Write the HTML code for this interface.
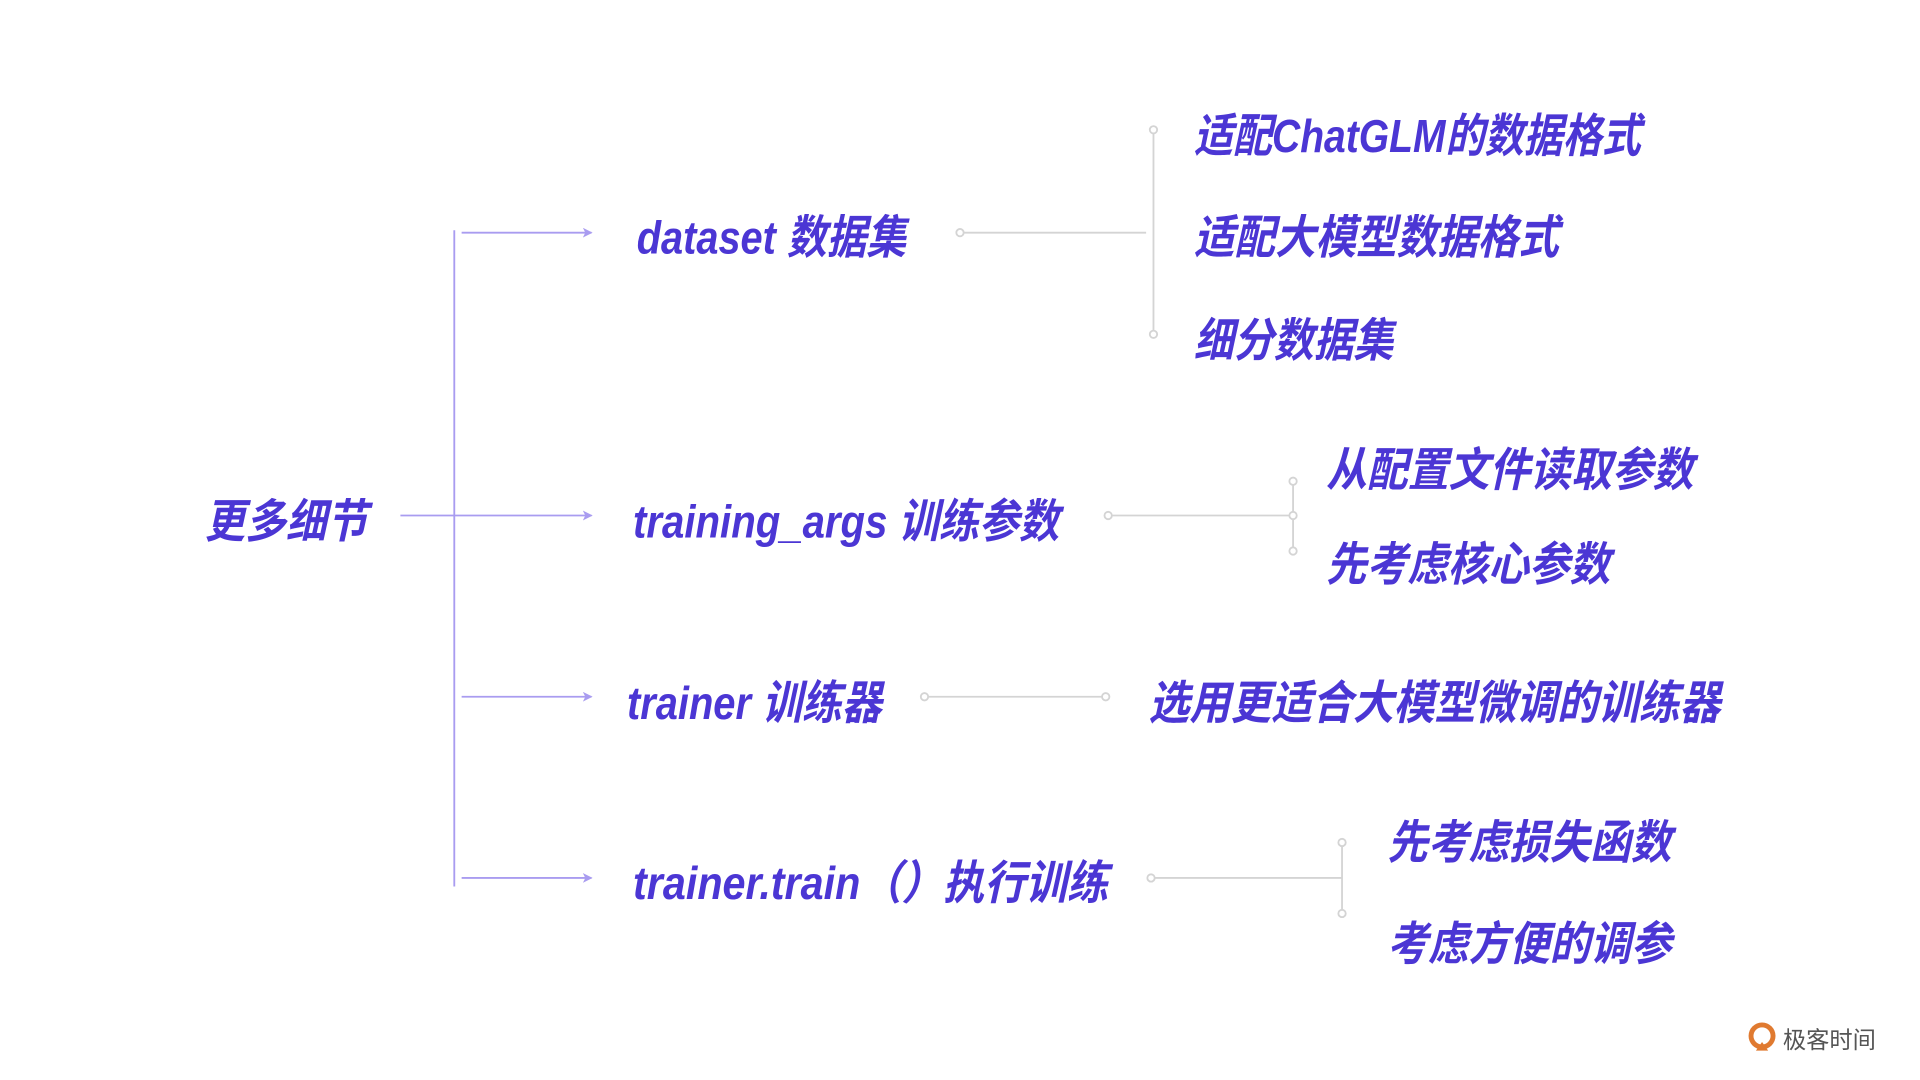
<!DOCTYPE html>
<html><head><meta charset="utf-8"><style>
html,body{margin:0;padding:0;background:#fff;width:1920px;height:1080px;overflow:hidden}
svg{display:block}
text{font-family:"Liberation Sans","Noto Sans CJK SC",sans-serif;font-style:italic;font-weight:bold;fill:#4b36d4;font-size:38px}
.g{stroke:#d4d4d4;stroke-width:1.5;fill:none}
.c{stroke:#d4d4d4;stroke-width:1.5;fill:#fff}
.p{stroke:#a99cf0;stroke-width:1.5;fill:none}
</style></head><body>
<svg width="1920" height="1080" viewBox="0 0 1568 882" xmlns="http://www.w3.org/2000/svg">
<defs><marker id="a" markerWidth="8" markerHeight="8" refX="7" refY="4" orient="auto" markerUnits="userSpaceOnUse"><path d="M0,0 L8,4 L0,8 L2,4 Z" fill="#a99cf0"/></marker></defs>
<!-- purple tree -->
<line class="p" x1="371" y1="188" x2="371" y2="724"/>
<line class="p" x1="327" y1="421" x2="483" y2="421" marker-end="url(#a)"/>
<line class="p" x1="377" y1="190" x2="483" y2="190" marker-end="url(#a)"/>
<line class="p" x1="377" y1="569" x2="483" y2="569" marker-end="url(#a)"/>
<line class="p" x1="377" y1="717" x2="483" y2="717" marker-end="url(#a)"/>
<!-- grey connectors -->
<line class="g" x1="787" y1="190" x2="936" y2="190"/>
<line class="g" x1="942" y1="106" x2="942" y2="273"/>
<circle class="c" cx="784" cy="190" r="3"/><circle class="c" cx="942" cy="106" r="3"/><circle class="c" cx="942" cy="273" r="3"/>
<line class="g" x1="908" y1="421" x2="1056" y2="421"/>
<line class="g" x1="1056" y1="393" x2="1056" y2="450"/>
<circle class="c" cx="905" cy="421" r="3"/><circle class="c" cx="1056" cy="393" r="3"/><circle class="c" cx="1056" cy="421" r="3"/><circle class="c" cx="1056" cy="450" r="3"/>
<line class="g" x1="758" y1="569" x2="900" y2="569"/>
<circle class="c" cx="755" cy="569" r="3"/><circle class="c" cx="903" cy="569" r="3"/>
<line class="g" x1="943" y1="717" x2="1096" y2="717"/>
<line class="g" x1="1096" y1="688" x2="1096" y2="746"/>
<circle class="c" cx="940" cy="717" r="3"/><circle class="c" cx="1096" cy="688" r="3"/><circle class="c" cx="1096" cy="746" r="3"/>
<!-- labels -->
<text x="167" y="439" textLength="133" lengthAdjust="spacingAndGlyphs">更多细节</text>
<text x="520" y="207" textLength="220" lengthAdjust="spacingAndGlyphs">dataset 数据集</text>
<text x="517" y="439" textLength="348" lengthAdjust="spacingAndGlyphs">training_args 训练参数</text>
<text x="512" y="587" textLength="208" lengthAdjust="spacingAndGlyphs">trainer 训练器</text>
<text x="517" y="734" textLength="388" lengthAdjust="spacingAndGlyphs">trainer.train（）执行训练</text>
<text x="975" y="124" textLength="365" lengthAdjust="spacingAndGlyphs">适配ChatGLM的数据格式</text>
<text x="975" y="207" textLength="298" lengthAdjust="spacingAndGlyphs">适配大模型数据格式</text>
<text x="975" y="291" textLength="163" lengthAdjust="spacingAndGlyphs">细分数据集</text>
<text x="1083" y="397" textLength="300" lengthAdjust="spacingAndGlyphs">从配置文件读取参数</text>
<text x="1083" y="474" textLength="232" lengthAdjust="spacingAndGlyphs">先考虑核心参数</text>
<text x="938" y="587" textLength="467" lengthAdjust="spacingAndGlyphs">选用更适合大模型微调的训练器</text>
<text x="1133" y="701" textLength="232" lengthAdjust="spacingAndGlyphs">先考虑损失函数</text>
<text x="1133" y="784" textLength="232" lengthAdjust="spacingAndGlyphs">考虑方便的调参</text>
<!-- logo -->
<circle cx="1439" cy="846" r="9" fill="none" stroke="#e07a30" stroke-width="4"/>
<path d="M1434,858 L1444,858 L1439,851 Z" fill="#e07a30"/>
<text x="1456" y="856" style="font-style:normal;font-weight:normal;fill:#555;font-size:19px">极客时间</text>
</svg>
</body></html>
